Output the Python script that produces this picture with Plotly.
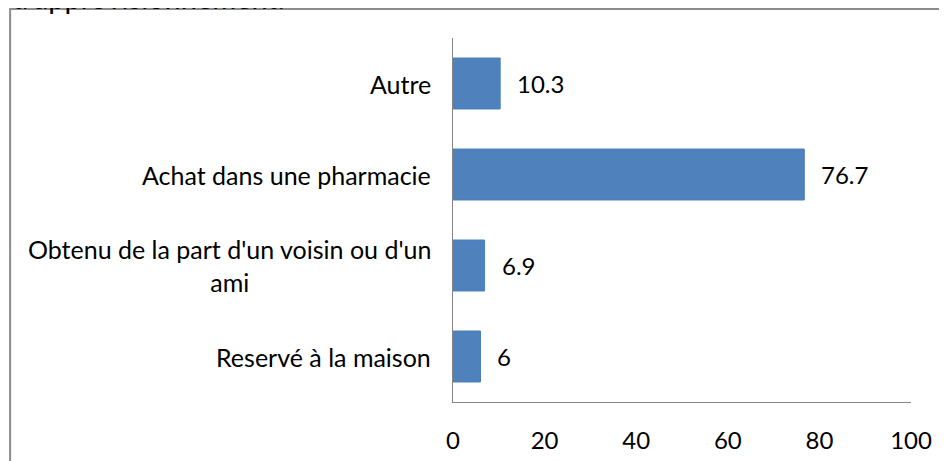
import plotly.graph_objects as go

categories = ["Autre", "Achat dans une pharmacie",
              "Obtenu de la part d'un voisin ou d'un<br>ami", "Reservé à la maison"]
values = [10.3, 76.7, 6.9, 6]
value_labels = ["10.3", "76.7", "6.9", "6"]
x_ticks = [0, 20, 40, 60, 80, 100]
title_text = "d'approvisionnement."

FONT = "Lato"
BAR = "#4F81BD"

fig = go.Figure()
fig.add_trace(go.Bar(
    x=values, y=list(range(len(categories))), orientation="h",
    marker=dict(color=BAR, line=dict(color="#4A7EBB", width=1)),
    hoverinfo="skip",
))

ann = []
for i, (c, v, t) in enumerate(zip(categories, values, value_labels)):
    ann.append(dict(x=0, xref="paper", y=i, yref="y", text=c, showarrow=False,
                    xanchor="right", yanchor="middle", align="center", xshift=-20,
                    font=dict(family=FONT, size=25, color="#000000")))
    ann.append(dict(x=v, xref="x", y=i, yref="y", text=t, showarrow=False,
                    xanchor="left", yanchor="middle", xshift=15,
                    font=dict(family=FONT, size=24, color="#000000")))
ann.append(dict(x=-0.967, xref="paper", y=1.057, yref="paper", text=title_text,
                showarrow=False, xanchor="left", yanchor="bottom",
                font=dict(family=FONT, size=29, color="#000000")))

fig.update_layout(
    template="none",
    width=947, height=461,
    margin=dict(l=445, r=44, t=30, b=67, autoexpand=False),
    paper_bgcolor="white", plot_bgcolor="white",
    showlegend=False, bargap=0.44,
    annotations=ann,
    xaxis=dict(range=[0, 100], tickvals=x_ticks, showgrid=False, zeroline=False,
               automargin=False,
               showline=True, linecolor="#868686", linewidth=1,
               ticks="outside", ticklen=17, tickcolor="rgba(0,0,0,0)",
               tickfont=dict(family=FONT, size=24, color="#000000")),
    yaxis=dict(range=[3.5, -0.5], showgrid=False, zeroline=False,
               automargin=False,
               showline=True, linecolor="#868686", linewidth=1,
               showticklabels=False, ticks=""),
    shapes=[dict(type="rect", xref="paper", yref="paper",
                 x0=-0.967, x1=1.25, y0=-0.3, y1=1.0797,
                 line=dict(color="#8c8c8c", width=2), fillcolor="rgba(0,0,0,0)",
                 layer="below")],
)

fig.write_html("out.html")
